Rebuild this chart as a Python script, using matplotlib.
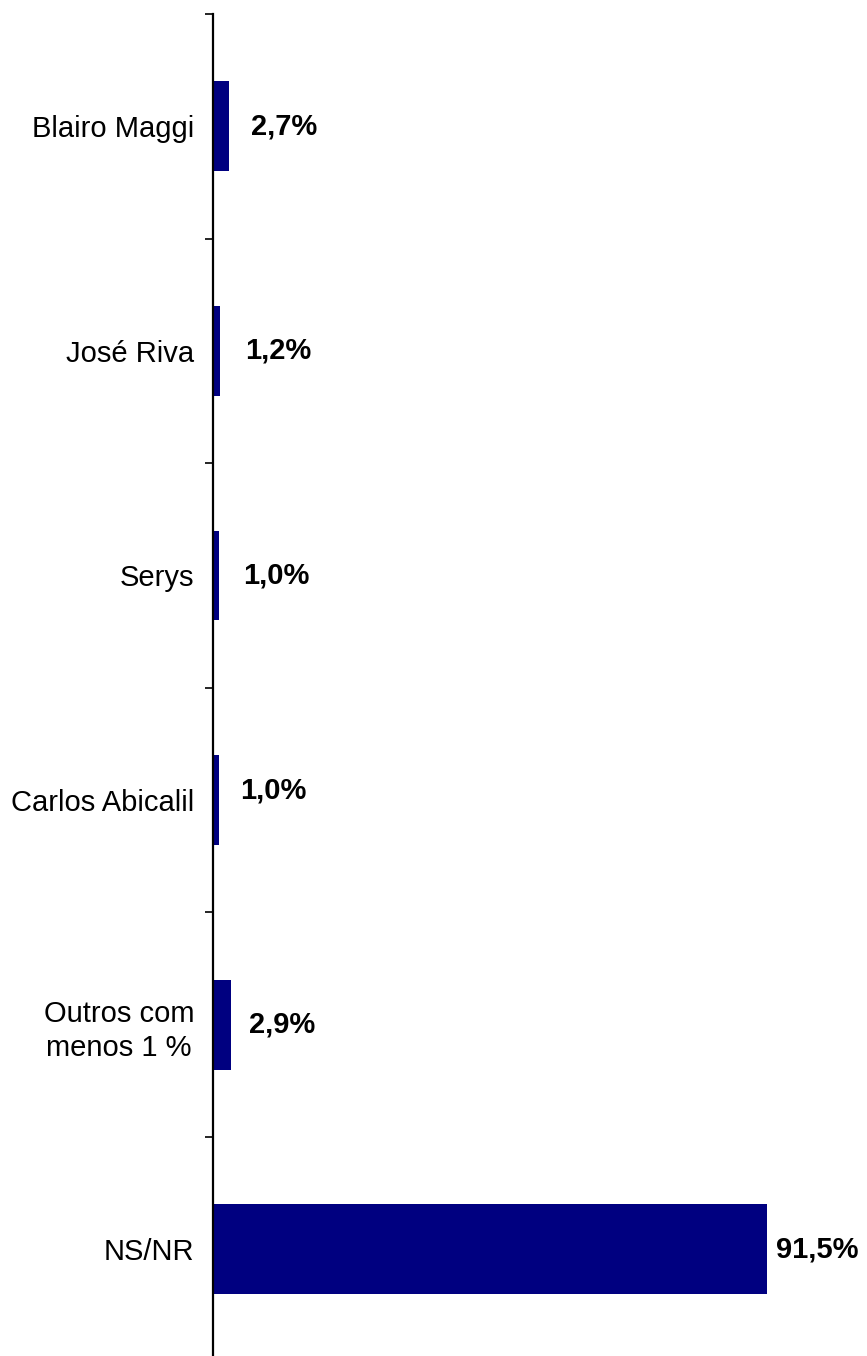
import matplotlib
matplotlib.use("Agg")
import matplotlib.pyplot as plt
import numpy as np

categories = ["Blairo Maggi", "José Riva", "Serys", "Carlos Abicalil",
              "Outros com\nmenos 1 %", "NS/NR"]
values = [2.7, 1.2, 1.0, 1.0, 2.9, 91.5]
value_labels = ["2,7%", "1,2%", "1,0%", "1,0%", "2,9%", "91,5%"]

# style: per-label offsets in pixels (x, y)
label_offsets = [(22, 0), (25, 0), (24, 0), (21, 10), (18, 0), (9, 0)]

plt.rcParams['font.family'] = ['Liberation Sans', 'DejaVu Sans']

W, H = 867, 1356
dpi = 100
fig = plt.figure(figsize=(W / dpi, H / dpi), dpi=dpi)
left = 213 / W
ax_top_px = 14
ax_h_px = 6 * 224.6
bottom = (H - ax_top_px - ax_h_px) / H
ax = fig.add_axes([left, bottom, 1 - left, ax_h_px / H])

n = len(categories)
y = np.arange(n)
ax.barh(y, values, height=0.4, color="#000080", zorder=2)
ax.set_ylim(n - 0.5, -0.5)
ax.set_xlim(0, 108.0)

for spine in ["top", "right", "bottom"]:
    ax.spines[spine].set_visible(False)
ax.spines["left"].set_linewidth(1.6)
ax.spines["left"].set_color("black")

ax.set_xticks([])
ax.set_yticks(y)
ax.set_yticklabels(categories, fontsize=21, multialignment="center",
                   linespacing=1.3)
ax.tick_params(axis="y", which="major", length=0, pad=19 * 72 / dpi)
ax.set_yticks(np.arange(-0.5, n + 0.5, 1.0), minor=True)
ax.tick_params(axis="y", which="minor", length=8 * 72 / dpi, width=1.2,
               direction="out", color="black")

for i, (v, lab) in enumerate(zip(values, value_labels)):
    dx, dy = label_offsets[i]
    ax.annotate(lab, xy=(v, i), xytext=(dx * 72 / dpi, dy * 72 / dpi),
                textcoords="offset points", ha="left", va="center",
                fontsize=21, fontweight="bold", color="black",
                annotation_clip=False)

fig.savefig("out.png", dpi=dpi)
